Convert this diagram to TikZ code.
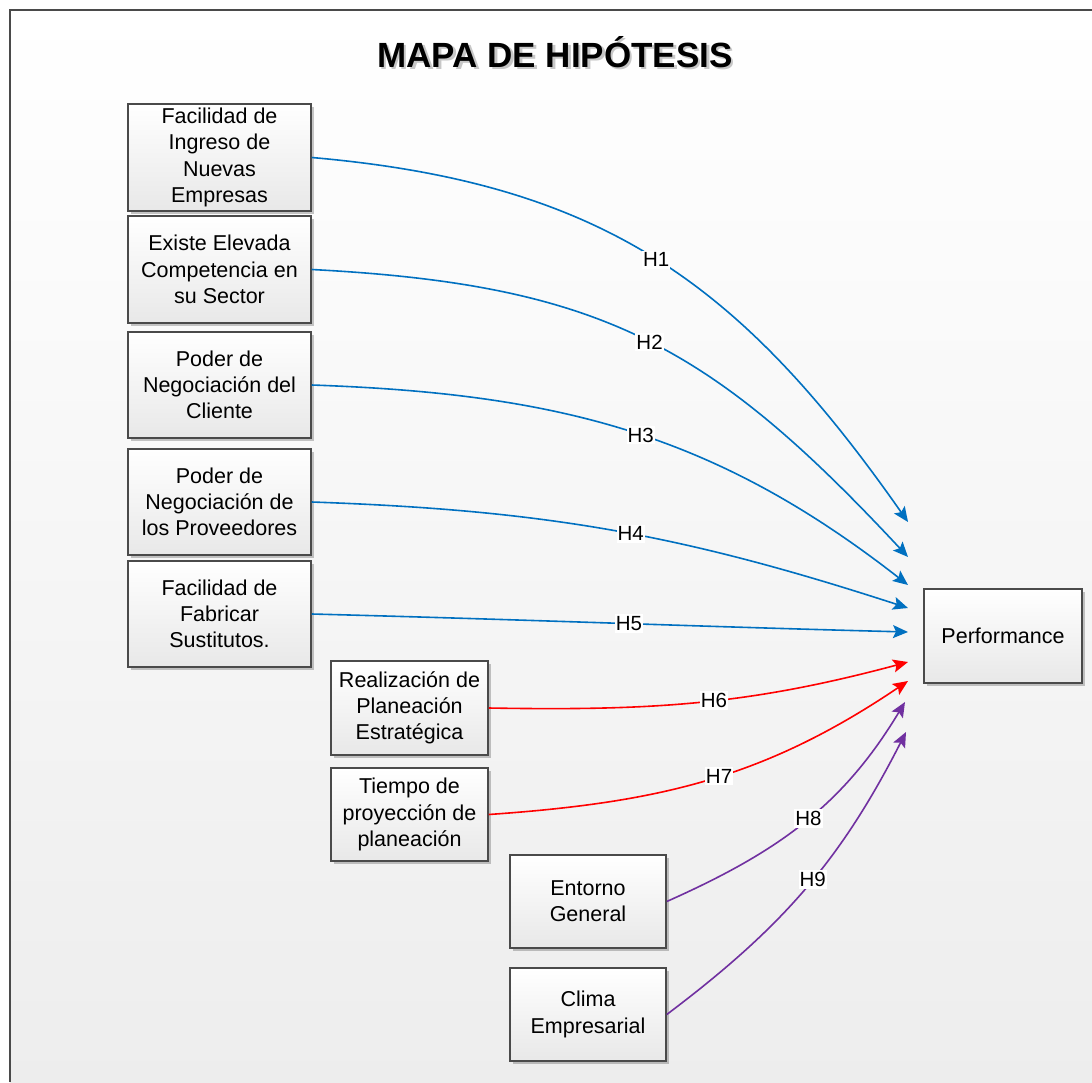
\documentclass[tikz,border=0pt]{standalone}
\usepackage{fontspec}
\setmainfont{Liberation Sans}
\usetikzlibrary{arrows.meta,shadows}
\definecolor{hblue}{HTML}{0070C0}
\definecolor{hred}{HTML}{FF0000}
\definecolor{hpurple}{HTML}{7030A0}
\definecolor{framegray}{HTML}{4A4A4A}
\begin{document}
\begin{tikzpicture}[x=1pt,y=1pt,
  box/.style={draw=framegray, line width=1.5pt, top color=white, bottom color=black!9,
    align=center, inner sep=0pt, font=\fontsize{21.5}{26.3}\selectfont,
    drop shadow={shadow xshift=3pt, shadow yshift=-3pt, opacity=0.22, fill=black}},
  bigbox/.style={box, minimum width=183pt, minimum height=106pt},
  smallbox/.style={box, minimum width=157pt, minimum height=93pt},
  hyp/.style={draw=#1, line width=1.6pt, -{Stealth[length=15pt,width=13pt,inset=3pt]}},
  lbl/.style={fill=white, inner xsep=1pt, inner ysep=2pt, text=black, font=\fontsize{20.5}{24}\selectfont},
  titletext/.style={font=\fontsize{35}{40}\bfseries\selectfont, anchor=base}
]
\useasboundingbox (0,0) rectangle (1092,-1082);
% background and frame
\shade[top color=white, bottom color=black!7] (10,-10) rectangle (1092,-1082);
\draw[framegray, line width=2pt] (10,-1082) -- (10,-10) -- (1092,-10);

% title
\node[titletext, text=black!22] (titleshadow) at (557.5,-69.5) {MAPA DE HIPÓTESIS};
\node[titletext] (title) at (555,-67) {MAPA DE HIPÓTESIS};

% boxes
\node[bigbox, minimum height=107pt] (b1) at (219.5,-157.5) {Facilidad de\\Ingreso de\\Nuevas\\Empresas};
\node[bigbox, minimum height=107pt] (b2) at (219.5,-269.5) {Existe Elevada\\Competencia en\\su Sector};
\node[bigbox] (b3) at (219.5,-385) {Poder de\\Negociación del\\Cliente};
\node[bigbox] (b4) at (219.5,-502) {Poder de\\Negociación de\\los Proveedores};
\node[bigbox] (b5) at (219.5,-614) {Facilidad de\\Fabricar\\Sustitutos.};
\node[smallbox, minimum height=94pt] (b6) at (409.5,-708) {Realización de\\Planeación\\Estratégica};
\node[smallbox] (b7) at (409.5,-814.5) {Tiempo de\\proyección de\\planeación};
\node[smallbox, minimum width=156pt] (b8) at (588,-901.5) {Entorno\\General};
\node[smallbox, minimum width=156pt] (b9) at (588,-1014.5) {Clima\\Empresarial};
\node[smallbox, minimum width=158pt, minimum height=94pt] (perf) at (1003,-636) {Performance};

% arrow end points
\coordinate (t1) at (908,-522);
\coordinate (t2) at (908,-557);
\coordinate (t3) at (908,-585);
\coordinate (t4) at (908,-608);
\coordinate (t5) at (908,-632);
\coordinate (t6) at (908,-662);
\coordinate (t7) at (908,-681);
\coordinate (t8) at (905,-702);
\coordinate (t9) at (906,-732);

% connectors
\draw[hyp=hblue] (b1.east) to[out=-5,in=125,looseness=1.07] node[lbl,pos=0.5]{H1} (t1);
\draw[hyp=hblue] (b2.east) to[out=-3,in=133,looseness=1.12] node[lbl,pos=0.51]{H2} (t2);
\draw[hyp=hblue] (b3.east) to[out=-2,in=142] node[lbl,pos=0.52]{H3} (t3);
\draw[hyp=hblue] (b4.east) to[out=-2,in=162] node[lbl,pos=0.53]{H4} (t4);
\draw[hyp=hblue] (b5.east) to[out=-1.5,in=178.5] node[lbl,pos=0.535]{H5} (t5);
\draw[hyp=hred] (b6.east) to[out=-1,in=-165] node[lbl,pos=0.535]{H6} (t6);
\draw[hyp=hred] (b7.east) to[out=4,in=-146] node[lbl,pos=0.525]{H7} (t7);
\draw[hyp=hpurple] (b8.east) to[out=24,in=-121] node[lbl,pos=0.52]{H8} (t8);
\draw[hyp=hpurple] (b9.east) to[out=37,in=-117] node[lbl,pos=0.535]{H9} (t9);
\end{tikzpicture}
\end{document}
